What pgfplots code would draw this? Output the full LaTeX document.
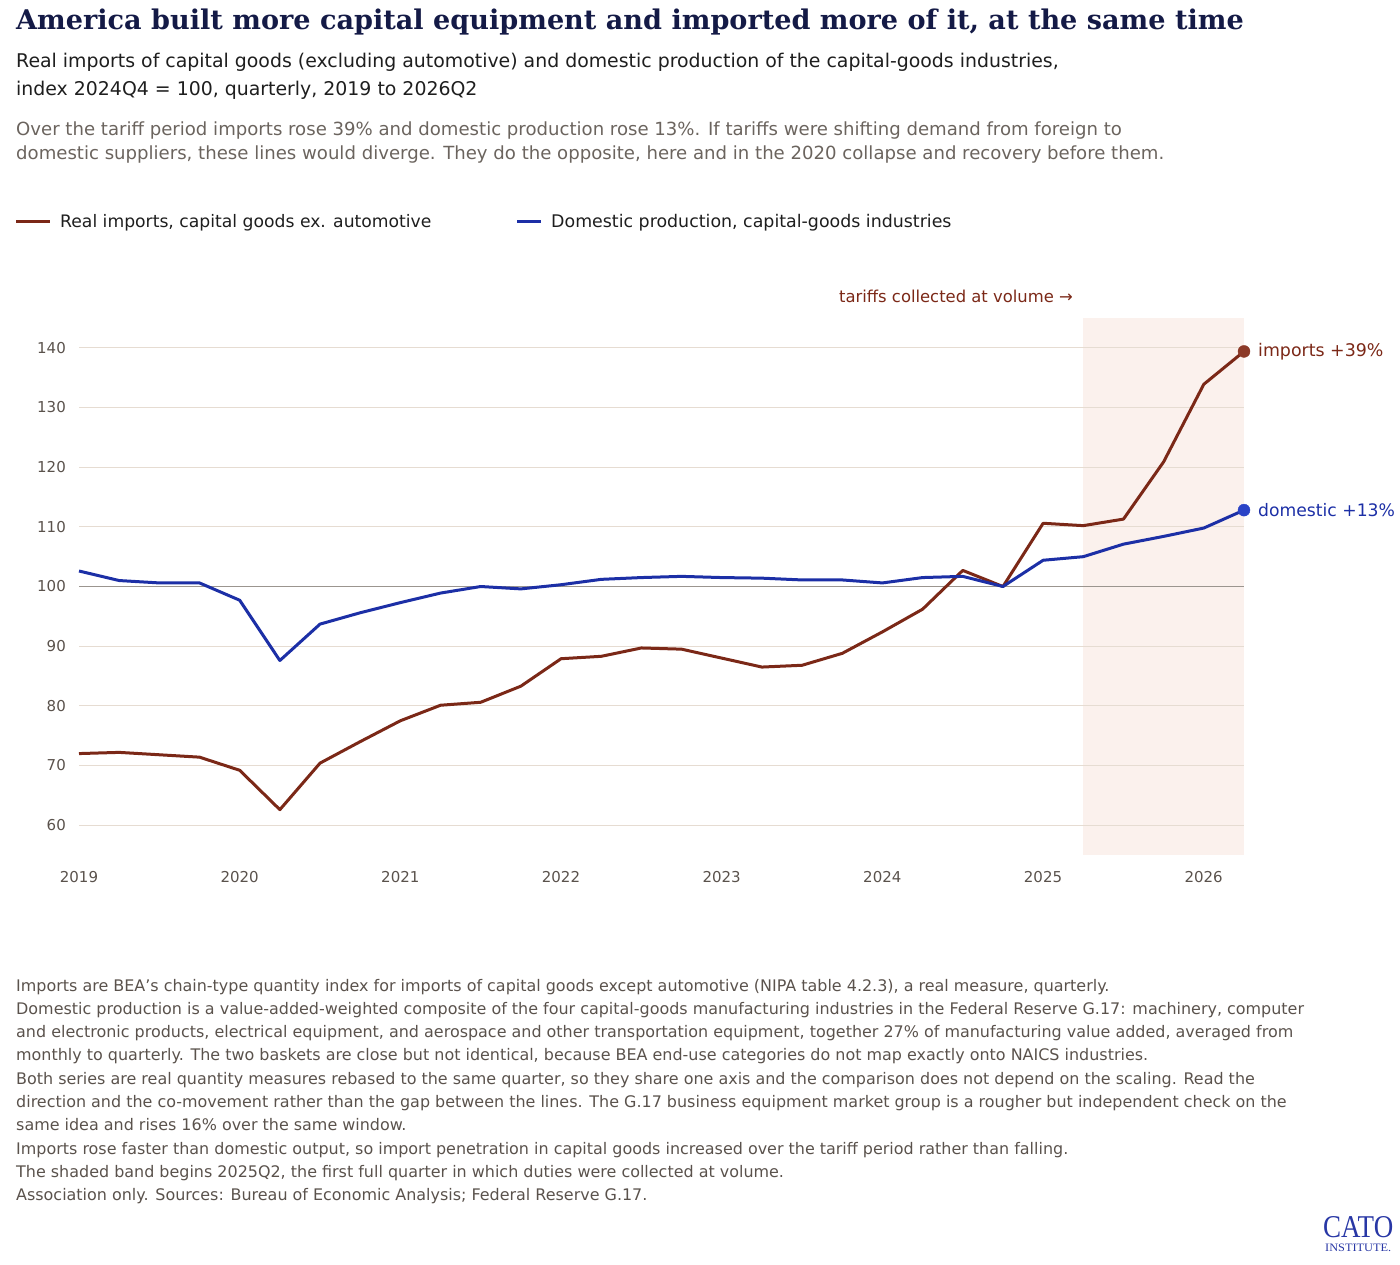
\documentclass[border=0pt]{standalone}
\usepackage{fontspec}
\setmainfont{DejaVu Sans}
\newfontfamily\titlefont{DejaVu Serif}
\newfontfamily\logofont{Liberation Serif}
\usepackage{pgfplots}
\usepackage{pgfplotstable}
\pgfplotsset{compat=1.18}
\definecolor{titlec}{RGB}{20,26,70}
\definecolor{subc}{RGB}{30,30,30}
\definecolor{descc}{RGB}{107,100,94}
\definecolor{notec}{RGB}{90,82,76}
\definecolor{tickc}{RGB}{90,82,76}
\definecolor{impc}{RGB}{123,40,23}
\definecolor{domc}{RGB}{28,47,166}
\definecolor{impm}{RGB}{140,58,40}
\definecolor{domm}{RGB}{42,67,198}
\definecolor{shadec}{RGB}{251,241,237}
\definecolor{gridc}{RGB}{230,220,210}
\definecolor{linec}{RGB}{155,149,143}
\definecolor{logoc}{RGB}{40,55,165}
\pgfplotstableread{
t imp dom
2019.00 72.0 102.6
2019.25 72.2 101.0
2019.50 71.8 100.6
2019.75 71.4 100.6
2020.00 69.2 97.7
2020.25 62.6 87.6
2020.50 70.4 93.7
2020.75 74.0 95.6
2021.00 77.5 97.3
2021.25 80.1 98.9
2021.50 80.6 100.0
2021.75 83.3 99.6
2022.00 87.9 100.3
2022.25 88.3 101.2
2022.50 89.7 101.5
2022.75 89.5 101.7
2023.00 88.0 101.5
2023.25 86.5 101.4
2023.50 86.8 101.1
2023.75 88.8 101.1
2024.00 92.4 100.6
2024.25 96.2 101.5
2024.50 102.7 101.7
2024.75 100.0 100.0
2025.00 110.6 104.4
2025.25 110.2 105.0
2025.50 111.3 107.1
2025.75 120.9 108.4
2026.00 133.9 109.8
2026.25 139.4 112.8
}\data
\begin{document}
\begin{tikzpicture}
\path (0,0) rectangle (1400bp,-1265bp);
% title block
\node[anchor=base west, inner sep=0, text=titlec, font=\titlefont\bfseries\fontsize{27.1bp}{32bp}\selectfont] at (16bp,-29bp) {America built more capital equipment and imported more of it, at the same time};
\node[anchor=base west, inner sep=0, text=subc, font=\fontsize{18.9bp}{23bp}\selectfont] at (16bp,-67bp) {Real imports of capital goods (excluding automotive) and domestic production of the capital-goods industries,};
\node[anchor=base west, inner sep=0, text=subc, font=\fontsize{18.9bp}{23bp}\selectfont] at (16bp,-95bp) {index 2024Q4 = 100, quarterly, 2019 to 2026Q2};
\node[anchor=base west, inner sep=0, text=descc, font=\fontsize{18.1bp}{22bp}\selectfont] at (16bp,-135bp) {Over the tariff period imports rose 39\% and domestic production rose 13\%. If tariffs were shifting demand from foreign to};
\node[anchor=base west, inner sep=0, text=descc, font=\fontsize{18.1bp}{22bp}\selectfont] at (16bp,-159bp) {domestic suppliers, these lines would diverge. They do the opposite, here and in the 2020 collapse and recovery before them.};
% legend
\draw[impc, line width=3bp] (16bp,-221bp) -- (50bp,-221bp);
\node[anchor=base west, inner sep=0, text=subc, font=\fontsize{17.2bp}{21bp}\selectfont] at (60bp,-227bp) {Real imports, capital goods ex. automotive};
\draw[domc, line width=3bp] (517bp,-221bp) -- (541bp,-221bp);
\node[anchor=base west, inner sep=0, text=subc, font=\fontsize{17.4bp}{21bp}\selectfont] at (551bp,-227bp) {Domestic production, capital-goods industries};
% annotation
\node[anchor=base east, inner sep=0, text=impc, font=\fontsize{16.4bp}{20bp}\selectfont] at (1073bp,-302bp) {tariffs collected at volume →};
\begin{axis}[
  at={(79bp,-855bp)}, anchor=south west,
  scale only axis, width=1165bp, height=537bp,
  xmin=2019, xmax=2026.25, ymin=55, ymax=145,
  set layers, clip=false,
  axis line style={draw=none},
  major tick length=0pt,
  xtick={2019,...,2026}, ytick={60,70,...,140},
  ymajorgrids, grid style={color=gridc, line width=1bp},
  tick label style={font=\fontsize{15bp}{18bp}\selectfont, text=tickc},
  /pgf/number format/assume math mode=true,
  xticklabel style={/pgf/number format/1000 sep={}, anchor=north, inner sep=0pt, yshift=-16bp},
  yticklabel style={anchor=east, inner sep=0pt, xshift=-13bp},
]
\begin{pgfonlayer}{axis background}
\fill[shadec] (axis cs:2025.25,55) rectangle (axis cs:2026.25,145);
\end{pgfonlayer}
\addplot[linec, line width=1.3bp] coordinates {(2019,100) (2026.25,100)};
\addplot[impc, line width=3bp, line join=round] table[x=t,y=imp]{\data};
\addplot[domc, line width=3bp, line join=round] table[x=t,y=dom]{\data};
\addplot[only marks, mark=*, mark size=6bp, mark options={fill=impm, draw=impm}] coordinates {(2026.25,139.4)};
\addplot[only marks, mark=*, mark size=6bp, mark options={fill=domm, draw=domm}] coordinates {(2026.25,112.8)};
\node[anchor=west, inner sep=0, xshift=14bp, text=impc, font=\fontsize{17.4bp}{21bp}\selectfont] at (axis cs:2026.25,139.4) {imports +39\%};
\node[anchor=west, inner sep=0, xshift=14bp, text=domc, font=\fontsize{17.2bp}{21bp}\selectfont] at (axis cs:2026.25,112.8) {domestic +13\%};
\end{axis}
% notes
\begin{scope}[every node/.style={anchor=base west, inner sep=0, text=notec, font=\fontsize{15.95bp}{20bp}\selectfont}]
\node at (16bp,-991bp) {Imports are BEA’s chain-type quantity index for imports of capital goods except automotive (NIPA table 4.2.3), a real measure, quarterly.};
\node at (16bp,-1014.3bp) {Domestic production is a value-added-weighted composite of the four capital-goods manufacturing industries in the Federal Reserve G.17: machinery, computer};
\node at (16bp,-1037.6bp) {and electronic products, electrical equipment, and aerospace and other transportation equipment, together 27\% of manufacturing value added, averaged from};
\node at (16bp,-1060.9bp) {monthly to quarterly. The two baskets are close but not identical, because BEA end-use categories do not map exactly onto NAICS industries.};
\node at (16bp,-1084.2bp) {Both series are real quantity measures rebased to the same quarter, so they share one axis and the comparison does not depend on the scaling. Read the};
\node at (16bp,-1107.5bp) {direction and the co-movement rather than the gap between the lines. The G.17 business equipment market group is a rougher but independent check on the};
\node at (16bp,-1130.8bp) {same idea and rises 16\% over the same window.};
\node at (16bp,-1154.1bp) {Imports rose faster than domestic output, so import penetration in capital goods increased over the tariff period rather than falling.};
\node at (16bp,-1177.4bp) {The shaded band begins 2025Q2, the first full quarter in which duties were collected at volume.};
\node at (16bp,-1200.7bp) {Association only. Sources: Bureau of Economic Analysis; Federal Reserve G.17.};
\end{scope}
% logo
\node[anchor=south west, inner sep=0, text=logoc] at (1323bp,-1238bp) {\resizebox{70bp}{21bp}{\logofont CATO}};
\node[anchor=north west, inner sep=0, text=logoc] at (1325bp,-1244bp) {\resizebox{66bp}{7.5bp}{\logofont INSTITUTE.}};
\end{tikzpicture}
\end{document}
